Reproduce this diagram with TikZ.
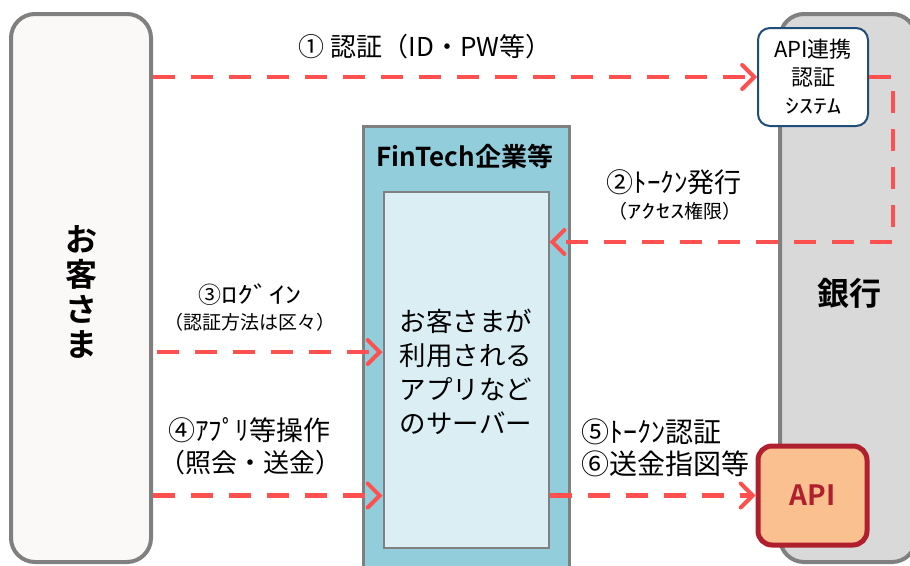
\documentclass[tikz,border=0pt]{standalone}
\usepackage{fontspec}
\usepackage{graphicx}
\setmainfont{Noto Sans CJK JP}[BoldFont={Noto Sans CJK JP Bold}]
\usetikzlibrary{arrows.meta}
\definecolor{arrred}{HTML}{FF5050}
\definecolor{boxgrey}{HTML}{808080}
\definecolor{fincol}{HTML}{92CDDC}
\definecolor{srvcol}{HTML}{DAEEF3}
\definecolor{bankcol}{HTML}{D9D9D9}
\definecolor{custcol}{HTML}{FAF9F7}
\definecolor{authline}{HTML}{1F4E79}
\definecolor{apifill}{HTML}{FAC090}
\definecolor{apiline}{HTML}{B01F2E}
\newcommand{\hwide}[2]{\scalebox{#1}[1]{#2}}
\tikzset{
  flowarr/.style={draw=arrred, line width=4.5pt, dash pattern=on 22pt off 16pt,
    -{Straight Barb[length=12pt,width=24pt,line width=4pt,line cap=round]}},
  lbl/.style={inner sep=0pt, align=center},
}
\begin{document}
\begin{tikzpicture}[x=1pt,y=-1pt]
\useasboundingbox (0,0) rectangle (910,565);
\clip (0,0) rectangle (910,565);
\fill[white] (0,0) rectangle (910,565);
% customer
\node[draw=boxgrey, line width=4pt, fill=custcol, rounded corners=24pt,
  minimum width=140pt, minimum height=548pt, inner sep=0pt] (cust) at (81,288) {};
\node[lbl, font=\bfseries\fontsize{32}{38}\selectfont] (custl) at (81,292) {お\\[-3pt]客\\[-3pt]さ\\[-3pt]ま};
% bank
\node[draw=boxgrey, line width=4pt, fill=bankcol, rounded corners=24pt,
  minimum width=136pt, minimum height=548pt, inner sep=0pt] (bank) at (848,288) {};
\node[lbl, font=\bfseries\fontsize{32}{38}\selectfont] (bankl) at (849,293) {銀行};
% fintech
\node[draw=boxgrey, line width=3pt, fill=fincol,
  minimum width=206pt, minimum height=460pt, inner sep=0pt] (fin) at (466,356) {};
\node[lbl, font=\bfseries\fontsize{26}{30}\selectfont] (finl) at (465,157) {FinTech企業等};
\node[draw=boxgrey, line width=2pt, fill=srvcol,
  minimum width=165pt, minimum height=356pt, inner sep=0pt] (srv) at (466,370) {};
\node[lbl, font=\fontsize{26.5}{34}\selectfont] (srvl) at (466,372) {お客さまが\\利用される\\アプリなど\\のサーバー};
% auth system
\node[draw=authline, line width=2pt, fill=white, rounded corners=12pt,
  minimum width=110pt, minimum height=98pt, inner sep=0pt] (auth) at (813,77) {};
\node[lbl, font=\fontsize{22}{28}\selectfont] (authl) at (813,77) {API連携\\認証\\{\fontsize{20}{24}\selectfont\hwide{1.4}{ｼｽﾃﾑ}}};
% API
\node[draw=apiline, line width=5pt, fill=apifill, rounded corners=14pt,
  minimum width=109pt, minimum height=99pt, inner sep=0pt,
  text=apiline, font=\bfseries\fontsize{28}{32}\selectfont] (api) at (812.5,495.5) {API};
% labels
\node[lbl, font=\fontsize{26}{30}\selectfont] (l1) at (425,47) {① 認証（ID・PW等）};
\node[lbl, font=\fontsize{27}{30}\selectfont] (l2a) at (674,182) {②ﾄｰｸﾝ発行};
\node[lbl, font=\fontsize{19}{22}\selectfont] (l2b) at (675,211) {（\hwide{1.5}{ｱｸｾｽ}権限）};
\node[lbl, font=\fontsize{23}{26}\selectfont] (l3a) at (250,295) {③\hwide{1.4}{ﾛｸﾞｲﾝ}};
\node[lbl, font=\fontsize{19}{22}\selectfont] (l3b) at (250,322) {（認証方法は区々）};
\node[lbl, font=\fontsize{27}{30}\selectfont] (l4a) at (249,430) {④ｱﾌﾟﾘ等操作};
\node[lbl, font=\fontsize{26}{30}\selectfont] (l4b) at (250,463) {（照会・送金）};
\node[lbl, anchor=west, font=\fontsize{28}{30}\selectfont] (l5a) at (581,432) {⑤ﾄｰｸﾝ認証};
\node[lbl, anchor=west, font=\fontsize{28}{30}\selectfont] (l5b) at (581,464) {⑥送金指図等};
% connectors
\coordinate (c2) at (893,242);
\coordinate (c3) at (0,352);
\draw[flowarr] (cust.east |- auth.west) -- (auth.west);
\draw[flowarr] (auth.east) -| (c2) -- (srv.east |- c2);
\draw[flowarr] ([xshift=4pt]cust.east |- c3) -- (srv.west |- c3);
\draw[flowarr] (cust.east |- api.west) -- (srv.west |- api.west);
\draw[flowarr] (srv.east |- api.west) -- (api.west);
\end{tikzpicture}
\end{document}
